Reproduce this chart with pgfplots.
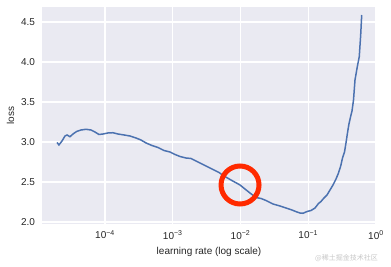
\documentclass[border=0pt]{standalone}
\usepackage{pgfplots}
\pgfplotsset{compat=1.18}
\usepackage{fontspec}
\setmainfont{Liberation Sans}
\newfontfamily\cjk{Noto Sans CJK SC}
\definecolor{sbbg}{HTML}{EAEAF2}
\definecolor{sbblue}{HTML}{4C72B0}
\definecolor{sbtext}{HTML}{262626}
\definecolor{ringred}{HTML}{FF2A00}
\begin{document}
\begin{tikzpicture}
\useasboundingbox (-42pt,-42pt) rectangle (349pt,224pt);
\begin{axis}[
  at={(0,0)}, anchor=south west,
  scale only axis, width=334pt, height=217pt,
  xmode=log, log basis x=10,
  xmin=1.175e-5, xmax=1,
  ymin=1.975, ymax=4.6875,
  axis background/.style={fill=sbbg},
  axis line style={draw=none},
  major tick length=0pt, minor tick length=0pt,
  xmajorgrids, ymajorgrids, xminorgrids=false,
  grid style={white, line width=1.1pt},
  xtick={1e-4,1e-3,1e-2,1e-1,1},
  xticklabels={10\textsuperscript{−4},10\textsuperscript{−3},10\textsuperscript{−2},10\textsuperscript{−1},10\textsuperscript{0}},
  ytick={2.0,2.5,3.0,3.5,4.0,4.5},
  yticklabel style={/pgf/number format/fixed, /pgf/number format/fixed zerofill, /pgf/number format/precision=1, xshift=-3.5pt},
  xticklabel style={yshift=-3pt},
  /pgf/number format/assume math mode=true,
  tick label style={font=\fontsize{10}{12}\selectfont, text=sbtext},
  label style={font=\fontsize{10}{12}\selectfont, text=sbtext},
  xlabel={learning rate (log scale)},
  ylabel={loss},
  xlabel style={yshift=-1pt},
  clip=false,
]
\addplot[sbblue, line width=1.5pt] coordinates {
(1.96e-5,2.994) (2.09e-5,2.963) (2.32e-5,3.013) (2.57e-5,3.075) (2.75e-5,3.088)
(3.04e-5,3.066) (3.37e-5,3.100) (3.80e-5,3.131) (4.42e-5,3.150) (5.25e-5,3.159)
(6.21e-5,3.150) (7.11e-5,3.125) (8.15e-5,3.094) (9.34e-5,3.100) (1.107e-4,3.113)
(1.312e-4,3.116) (1.556e-4,3.100) (1.907e-4,3.088) (2.34e-4,3.075) (2.87e-4,3.050)
(3.40e-4,3.025) (4.03e-4,2.988) (4.94e-4,2.956) (6.06e-4,2.931) (7.43e-4,2.894)
(9.10e-4,2.875) (1.079e-3,2.844) (1.279e-3,2.819) (1.569e-3,2.800) (1.859e-3,2.794)
(2.203e-3,2.763) (2.61e-3,2.731) (3.20e-3,2.694) (3.93e-3,2.656) (4.82e-3,2.619)
(5.70e-3,2.575) (7.24e-3,2.525) (9.84e-3,2.4625) (1.164e-2,2.4125) (1.380e-2,2.3625)
(1.694e-2,2.306) (2.01e-2,2.294) (2.38e-2,2.269) (3.02e-2,2.225) (3.83e-2,2.200)
(4.70e-2,2.175) (5.75e-2,2.150) (6.82e-2,2.125) (7.55e-2,2.1125) (8.37e-2,2.109)
(9.60e-2,2.131) (0.1099,2.144) (0.1259,2.175) (0.1416,2.231) (0.1541,2.256)
(0.1705,2.300) (0.189,2.3375) (0.2094,2.400) (0.2317,2.4625) (0.2570,2.5375)
(0.2793,2.6125) (0.3013,2.700) (0.3206,2.800) (0.3428,2.875) (0.3606,2.9875)
(0.3793,3.1125) (0.399,3.225) (0.4207,3.3125) (0.4426,3.3875) (0.4656,3.525)
(0.4898,3.775) (0.5297,3.941) (0.5662,4.066) (0.5943,4.3375) (0.6152,4.5875)
};
\addplot[only marks, mark=o, mark options={draw=ringred, line width=5pt}, mark size=19pt] coordinates {(9.84e-3,2.4625)};
\end{axis}
\node[anchor=east, inner sep=0pt, text=black!22] at (336pt,-34pt) {\cjk\fontsize{7}{8}\selectfont @稀土掘金技术社区};
\end{tikzpicture}
\end{document}
